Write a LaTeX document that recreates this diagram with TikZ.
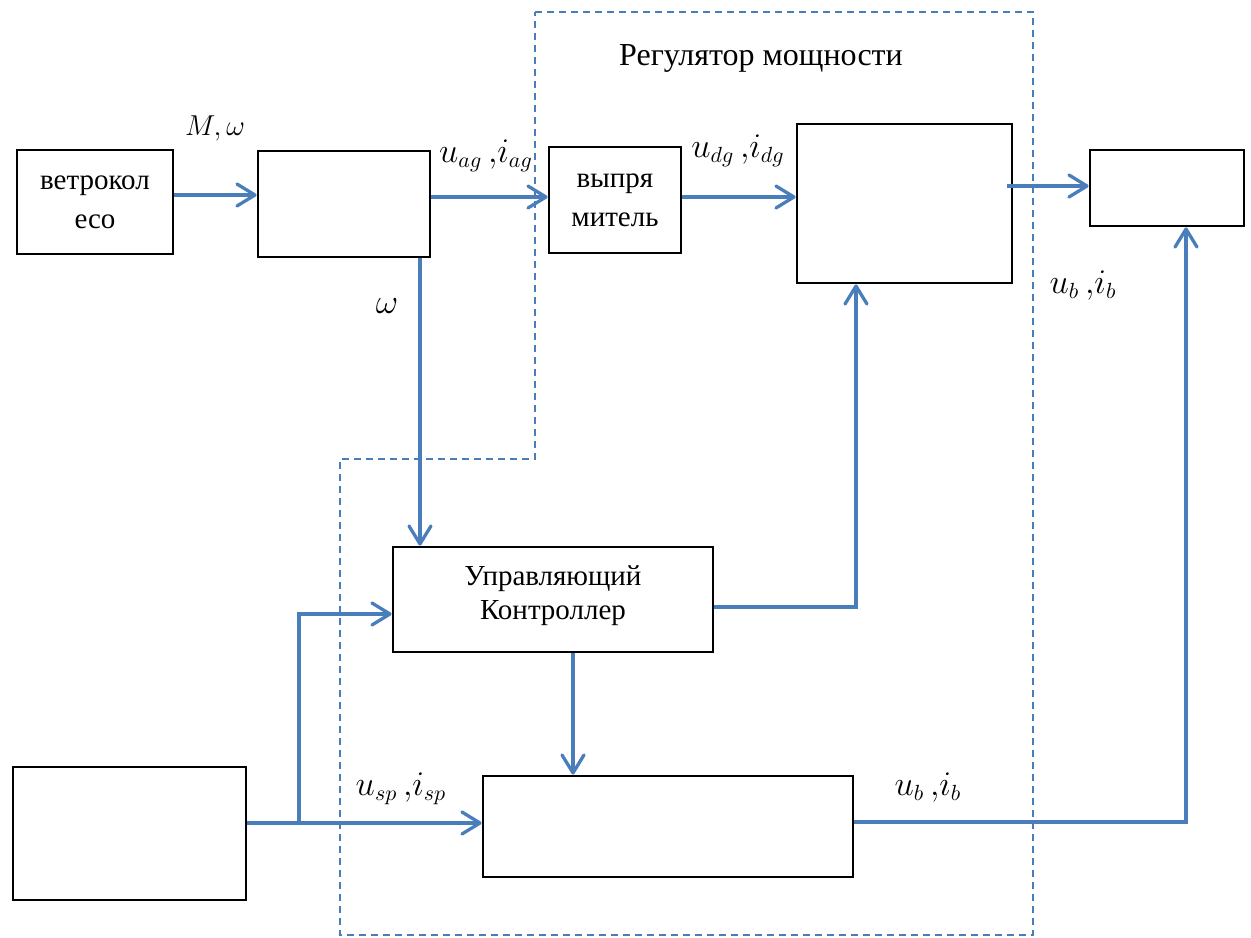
\documentclass[tikz,border=0pt]{standalone}
\usepackage{fontspec}
\setmainfont{Liberation Serif}
\usetikzlibrary{arrows.meta,calc}
\definecolor{flow}{RGB}{74,126,187}
\tikzset{
  block/.style={draw=black, line width=1.4pt, inner sep=0pt, align=center,
    font=\fontsize{14.5}{19.5}\selectfont},
  sig/.style={draw=flow, line width=1.65pt,
    -{Straight Barb[length=9pt,width=11pt,round]}},
  zone/.style={draw=flow, line width=0.9pt, dash pattern=on 3.5pt off 2.5pt},
  lbl/.style={anchor=base, inner sep=0pt, font=\fontsize{16}{18}\selectfont},
}
\begin{document}
\begin{tikzpicture}[x=0.5pt,y=-0.5pt]
\path[use as bounding box] (0,0) rectangle (1251,937);

% boundary of the power regulator
\draw[zone] (535,12) -- (1033,12) -- (1033,935) -- (340,935) -- (340,459)
  -- (535,459) -- cycle;
\node[anchor=base, inner sep=0pt, font=\fontsize{16}{19}\selectfont]
  (regtitle) at (761,65) {Регулятор мощности};

% blocks
\node[block, minimum width=78pt, minimum height=52pt] (wheel) at (95,202)
  {ветрокол\\есо};
\node[block, minimum width=86pt, minimum height=53pt] (gen) at (344,204) {};
\node[block, minimum width=66pt, minimum height=53pt] (rect) at (615,200)
  {выпря\\митель};
\node[block, minimum width=107.5pt, minimum height=79.5pt] (conv) at (904.5,203.5) {};
\node[block, minimum width=77pt, minimum height=38pt] (load) at (1167,188) {};
\node[block, minimum width=160pt, minimum height=52.5pt] (ctrl) at (553,599.5) {};
\node[align=center, inner sep=0pt, font=\fontsize{14.5}{17}\selectfont]
  (ctrltext) at (553,596) {Управляющий\\Контроллер};
\node[block, minimum width=116.5pt, minimum height=66.5pt] (src) at (129.5,833.5) {};
\node[block, minimum width=185pt, minimum height=50.5pt] (bat) at (668,826.5) {};

% signal flow
\draw[sig] (wheel.east |- 0,195) -- (gen.west |- 0,195);
\draw[sig] (gen.east |- 0,197) -- (rect.west |- 0,197);
\draw[sig] (rect.east |- 0,197) -- (conv.west |- 0,197);
\draw[sig] ([xshift=-3pt]conv.east |- 0,186) -- (load.west |- 0,186);
\draw[sig] (gen.south -| 420,0) -- (ctrl.north -| 420,0);
\draw[sig] (ctrl.east |- 0,607) -| (conv.south -| 856,0);
\draw[sig] (ctrl.south -| 573,0) -- (bat.north -| 573,0);
\draw[sig] (src.east |- 0,823) -- (bat.west |- 0,823);
\coordinate (split) at (299,823);
\draw[sig] (split) |- (ctrl.west |- 0,614);
\draw[sig] (bat.east |- 0,822) -| (load.south -| 1186,0);

% signal labels
\node[lbl, font=\fontsize{15}{18}\selectfont] (lmw) at (215,135) {$M,\omega$};
\node[lbl] (lag) at (486,162) {$u_{ag}\,{,}i_{ag}$};
\node[lbl] (ldg) at (738,157) {$u_{dg}\,{,}i_{dg}$};
\node[lbl] (lw) at (387,313) {$\omega$};
\node[lbl] (lbt) at (1083,293) {$u_{b}\,{,}i_{b}$};
\node[lbl] (lsp) at (401,795) {$u_{sp}\,{,}i_{sp}$};
\node[lbl] (lbb) at (928,795) {$u_{b}\,{,}i_{b}$};
\end{tikzpicture}
\end{document}
